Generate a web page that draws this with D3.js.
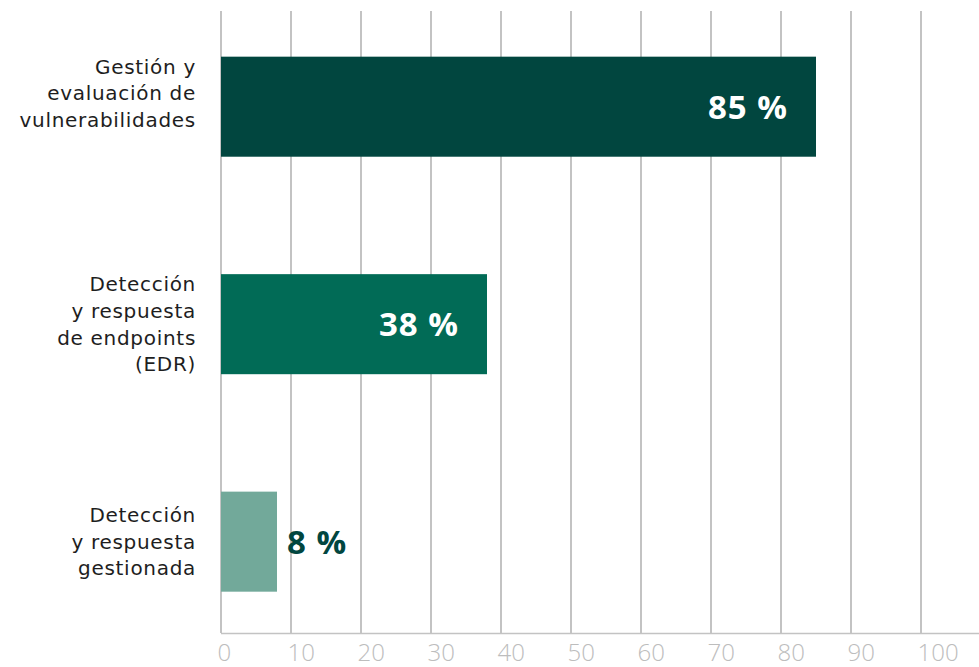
<!DOCTYPE html>
<html>
<head>
<meta charset="utf-8">
<script src="https://cdn.jsdelivr.net/npm/d3@7"></script>
<style>
  html, body { margin: 0; padding: 0; background: #fff; }
  svg { display: block; }
</style>
</head>
<body>
<svg id="chart" width="979" height="667"></svg>
<script>
// Categories (each entry is a list of label lines) and their percentages
const categories = [
  ["Gestión y", "evaluación de", "vulnerabilidades", ""],
  ["Detección", "y respuesta", "de endpoints", "(EDR)"],
  ["Detección", "y respuesta", "gestionada"]
];
const values = [85, 38, 8];
const barColors = ["#01463f", "#016b56", "#72a99a"];
const tickValues = [0, 10, 20, 30, 40, 50, 60, 70, 80, 90, 100];

const svg = d3.select("#chart");
const W = 979, H = 667;
const plotLeft = 221, plotRight = 921, plotTop = 11, plotBottom = 633;

const x = d3.scaleLinear().domain([0, 100]).range([plotLeft, plotRight]);
const y = d3.scaleBand()
  .domain(d3.range(categories.length))
  .range([plotTop, plotBottom])
  .paddingInner(0.54)
  .paddingOuter(0.2)
  .align(0.525);

// vertical gridlines
svg.append("g")
  .selectAll("line")
  .data(tickValues)
  .join("line")
  .attr("x1", d => x(d)).attr("x2", d => x(d))
  .attr("y1", plotTop).attr("y2", plotBottom)
  .attr("stroke", "#c3c3c3")
  .attr("stroke-width", 2);

// baseline axis with labels
const axis = d3.axisBottom(x).tickValues(tickValues).tickSize(0).tickPadding(0);
const gAxis = svg.append("g").attr("transform", `translate(0,${plotBottom})`).call(axis);
gAxis.select(".domain")
  .attr("d", `M${plotLeft},0.5H${W}`)
  .attr("stroke", "#c3c3c3")
  .attr("stroke-width", 1.5);
gAxis.selectAll("text")
  .attr("text-anchor", "start")
  .attr("dx", -4)
  .attr("y", 28)
  .attr("dy", 0)
  .attr("fill", "#bdbdbd")
  .style("font-family", "'Open Sans', sans-serif")
  .style("font-weight", 300)
  .style("font-size", "24px");

// bars
svg.append("g")
  .selectAll("rect")
  .data(values)
  .join("rect")
  .attr("x", x(0))
  .attr("y", (d, i) => y(i))
  .attr("width", d => x(d) - x(0))
  .attr("height", y.bandwidth())
  .attr("fill", (d, i) => barColors[i]);

// value labels: inside the bar end when wide enough, otherwise just outside
svg.append("g")
  .selectAll("text")
  .data(values)
  .join("text")
  .attr("x", d => d >= 20 ? x(d) - 28 : x(d) + 10)
  .attr("y", (d, i) => y(i) + y.bandwidth() / 2)
  .attr("dy", "0.36em")
  .attr("text-anchor", d => d >= 20 ? "end" : "start")
  .attr("fill", d => d >= 20 ? "#ffffff" : "#01463f")
  .style("font-family", "'Open Sans', sans-serif")
  .style("font-weight", 700)
  .style("font-size", "33px")
  .style("letter-spacing", "1px")
  .text(d => `${d} %`);

// category labels, right-aligned, vertically centred on each bar
const lineH = 26.7;
const cat = svg.append("g")
  .selectAll("text")
  .data(categories)
  .join("text")
  .attr("text-anchor", "end")
  .attr("fill", "#1e1e1e")
  .style("font-family", "'DejaVu Sans', sans-serif")
  .style("font-size", "20px")
  .style("letter-spacing", "0.7px");
cat.each(function(lines, i) {
  const cy = y(i) + y.bandwidth() / 2;
  const y0 = cy - (lines.length - 1) * lineH / 2;
  d3.select(this).selectAll("tspan")
    .data(lines)
    .join("tspan")
    .attr("x", 196)
    .attr("y", (d, j) => y0 + j * lineH)
    .attr("dy", "0.35em")
    .text(d => d);
});
</script>
</body>
</html>
